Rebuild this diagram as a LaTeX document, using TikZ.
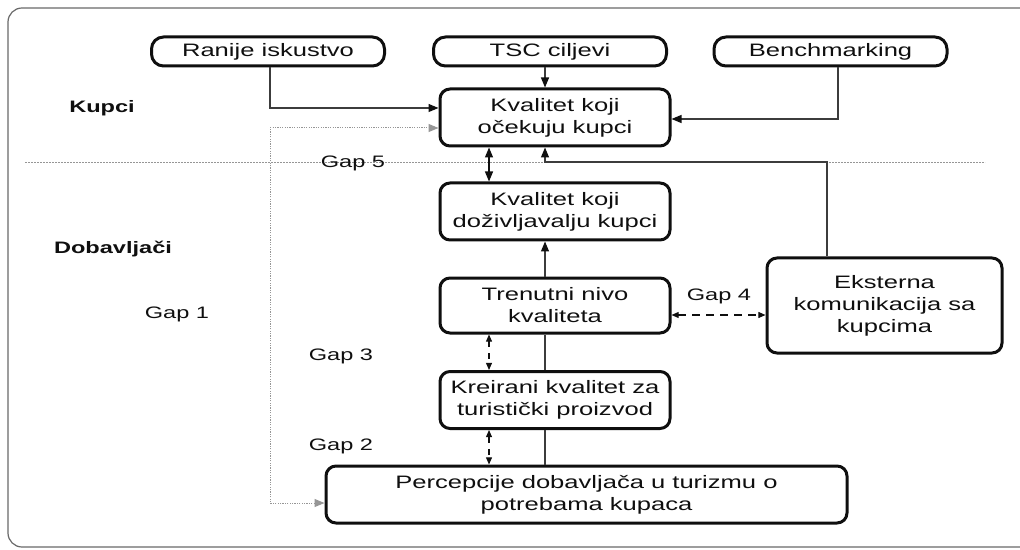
\documentclass[tikz,border=0pt]{standalone}
\usepackage{fontspec}
\newfontfamily\diagfont[FakeStretch=1.42]{Liberation Sans}
\usetikzlibrary{arrows.meta,calc}
\definecolor{gqInk}{RGB}{15,15,15}
\definecolor{gqLine}{RGB}{60,60,60}
\definecolor{gqDot}{RGB}{150,150,150}
\definecolor{gqFrame}{RGB}{105,105,105}

\begin{document}
\begin{tikzpicture}[x=.5pt,y=-.5pt]
\tikzset{
src/.style={rounded corners=6pt,draw=gqInk,line width=1.5pt,fill=white,
font=\diagfont\fontsize{9}{11}\selectfont,text=gqInk,align=center,
minimum width=116.5pt,minimum height=14.5pt,inner sep=0pt},
qual/.style={src,rounded corners=5pt,minimum width=115pt,minimum height=28.5pt},
side/.style={font=\diagfont\bfseries\fontsize{8.3}{10}\selectfont,text=gqInk},
gaplabel/.style={font=\diagfont\fontsize{8.3}{10}\selectfont,text=gqInk},
link/.style={draw=gqLine,line width=.6pt},
solidtip/.tip={Triangle[length=5pt,width=4pt,color=gqInk]},
gaptip/.tip={Triangle[length=3.6pt,width=3pt,color=gqInk]},
gaplink/.style={draw=gqInk,line width=.6pt,dash pattern=on 3pt off 3pt,gaptip-gaptip},
feedback/.style={draw=gqDot,line width=.5pt,dash pattern=on .6pt off .6pt,
{Triangle[length=5pt,width=4pt,color=gqDot]}-{Triangle[length=5pt,width=4pt,color=gqDot]}}
}
\useasboundingbox (0,0) rectangle (1020,550);
\draw[gqFrame,line width=.6pt,rounded corners=7pt] (8,8) rectangle (1040,547);

% sides
\draw[gqDot,line width=.45pt,dash pattern=on .8pt off .7pt] (25,162) -- (985,162);
\node[side] (kupci) at (102,108) {Kupci};
\node[side] (dobav) at (113,249) {Dobavljači};

% boxes
\node[src] (rani) at (268,51.5) {Ranije iskustvo};
\node[src] (tsc) at (550,51.5) {TSC ciljevi};
\node[src] (bench) at (830.5,51.5) {Benchmarking};
\node[qual] (ocek) at (555,117.5) {Kvalitet koji\\očekuju kupci};
\node[qual] (doz) at (555,211.5) {Kvalitet koji\\doživljavalju kupci};
\node[qual,minimum height=27.5pt] (tren) at (555,305.5) {Trenutni nivo\\kvaliteta};
\node[qual] (kre) at (555,400) {Kreirani kvalitet za\\turistički proizvod};
\node[qual,minimum width=260.5pt] (perc) at (586.5,494.5) {Percepcije dobavljača u turizmu o\\potrebama kupaca};
\node[qual,minimum width=117.5pt,minimum height=47.5pt] (eks) at (884.5,305.5) {Eksterna\\komunikacija sa\\kupcima};

% columns for the connectors
\coordinate (solidcol) at (545,0);
\coordinate (gapcol) at (489,0);
\coordinate (loopcol) at (270,0);
\coordinate (splitcol) at (827,0);
\coordinate (divy) at (0,162);

% inputs of expected quality
\draw[link,-solidtip] (rani.south -| loopcol) |- ($(ocek.west)+(0,-9.5)$);
\draw[link,-solidtip] (tsc.south -| solidcol) -- (ocek.north -| solidcol);
\draw[link,-solidtip] ($(bench.south)+(7.5,0)$) |- ($(ocek.east)+(0,1.5)$);
\draw[link,-solidtip] (eks.north -| splitcol) -- (divy -| splitcol) -- (divy -| solidcol) -- (ocek.south -| solidcol);

% Gap 1
\coordinate (fbin) at ($(ocek.west)+(0,10.5)$);
\coordinate (fbout) at ($(perc.west)+(0,8.5)$);
\draw[feedback] (fbout) -- (fbout -| loopcol) -- (fbin -| loopcol) -- (fbin);

% supplier chain
\draw[link,draw=gqInk,solidtip-solidtip] (ocek.south -| gapcol) -- (doz.north -| gapcol);
\draw[link,-solidtip] (tren.north -| solidcol) -- (doz.south -| solidcol);
\draw[link] (kre.north -| solidcol) -- (tren.south -| solidcol);
\draw[link] (perc.north -| solidcol) -- (kre.south -| solidcol);
\draw[gaplink] (tren.south -| gapcol) -- (kre.north -| gapcol);
\draw[gaplink] (kre.south -| gapcol) -- (perc.north -| gapcol);
\draw[gaplink,dash pattern=on 4pt off 3pt] ($(tren.east)+(0,9.5)$) coordinate (g4) -- (g4 -| eks.west);

% gap labels
\node[gaplabel] (gap1) at (177,314) {Gap 1};
\node[gaplabel] (gap2) at (341,446) {Gap 2};
\node[gaplabel] (gap3) at (341,356) {Gap 3};
\node[gaplabel] (gap4) at (719,296) {Gap 4};
\node[gaplabel] (gap5) at (353,163) {Gap 5};
\end{tikzpicture}
\end{document}
